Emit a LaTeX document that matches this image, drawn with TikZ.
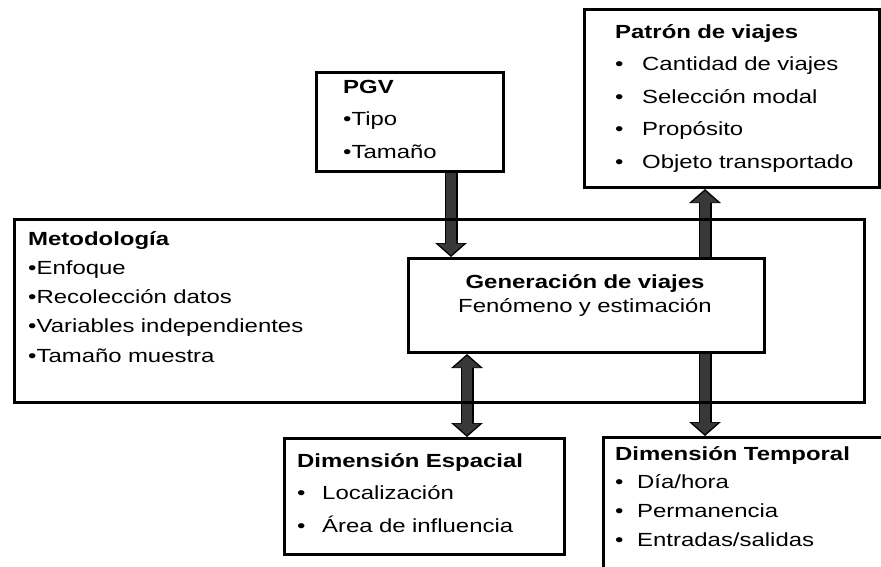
\documentclass[tikz,border=0pt]{standalone}
\usepackage{fontspec}
\setmainfont{Liberation Sans}[FakeStretch=1.26]
\usetikzlibrary{arrows.meta}

\newcommand{\lista}[1]{\fontsize{19}{#1}\selectfont}
\newcommand{\vineta}[1][25pt]{\makebox[#1][l]{\textbullet}}

\tikzset{
  caja/.style={draw, line width=3pt, rectangle, anchor=north west, inner sep=0pt, fill=white},
  texto/.style={anchor=north west, inner sep=0pt, align=left, text width=320pt, text height=0pt},
  flecha/.style={draw=black!78, line width=10pt, shorten >=2pt, -{Triangle[width=26pt, length=11.5pt]},
    preaction={draw=black, line width=13pt, shorten >=0pt, -{Triangle[width=31pt, length=14pt]}}},
  flechados/.style={draw=black!78, line width=10pt, shorten >=2pt, shorten <=2pt,
    {Triangle[width=26pt, length=11.5pt]}-{Triangle[width=26pt, length=11.5pt]},
    preaction={draw=black, line width=13pt, shorten >=0pt, shorten <=0pt,
      {Triangle[width=31pt, length=14pt]}-{Triangle[width=31pt, length=14pt]}}}
}

\begin{document}
\begin{tikzpicture}[x=1pt, y=-1pt]
  \useasboundingbox (0,0) rectangle (881,566);

  % cajas
  \node[caja, minimum width=187pt, minimum height=99pt] (pgv) at (315,71) {};
  \node[caja, minimum width=295pt, minimum height=178pt] (patron) at (583,8) {};
  \node[caja, minimum width=356pt, minimum height=94pt] (genera) at (407,257) {};
  \node[caja, minimum width=280pt, minimum height=116pt] (espacial) at (283,437) {};
  \node[caja, minimum width=320pt, minimum height=160pt] (temporal) at (602,436) {};

  % textos
  \node[texto, font=\lista{32.5}] at (343,93) {\textbf{PGV}\\\textbullet Tipo\\\textbullet Tamaño};
  \node[texto, font=\lista{32.5}] at (615,38) {\textbf{Patrón de viajes}\\\vineta[27pt]Cantidad de viajes\\\vineta[27pt]Selección modal\\\vineta[27pt]Propósito\\\vineta[27pt]Objeto transportado};
  \node[texto, font=\lista{24}, align=center, anchor=north, text width=356pt] at (585,288) {\textbf{Generación de viajes}\\Fenómeno y estimación};
  \node[texto, font=\lista{29.2}] at (28,245) {\textbf{Metodología}\\\textbullet Enfoque\\\textbullet Recolección datos\\\textbullet Variables independientes\\\textbullet Tamaño muestra};
  \node[texto, font=\lista{32.5}] at (297,467) {\textbf{Dimensión Espacial}\\\vineta Localización\\\vineta Área de influencia};
  \node[texto, font=\lista{28.7}] at (615,460) {\textbf{Dimensión Temporal}\\\vineta[22pt]Día/hora\\\vineta[22pt]Permanencia\\\vineta[22pt]Entradas/salidas};

  % flechas
  \coordinate (ejeP) at (451,0);
  \coordinate (ejeE) at (467,0);
  \coordinate (ejeT) at (705,0);
  \draw[flecha] (pgv.south -| ejeP) -- (genera.north -| ejeP);
  \draw[flecha] (genera.north -| ejeT) -- (patron.south -| ejeT);
  \draw[flecha] (genera.south -| ejeT) -- (temporal.north -| ejeT);
  \draw[flechados] (genera.south -| ejeE) -- (espacial.north -| ejeE);

  \node[caja, fill=none, minimum width=850pt, minimum height=183pt] (metodo) at (13,218) {};
\end{tikzpicture}
\end{document}
